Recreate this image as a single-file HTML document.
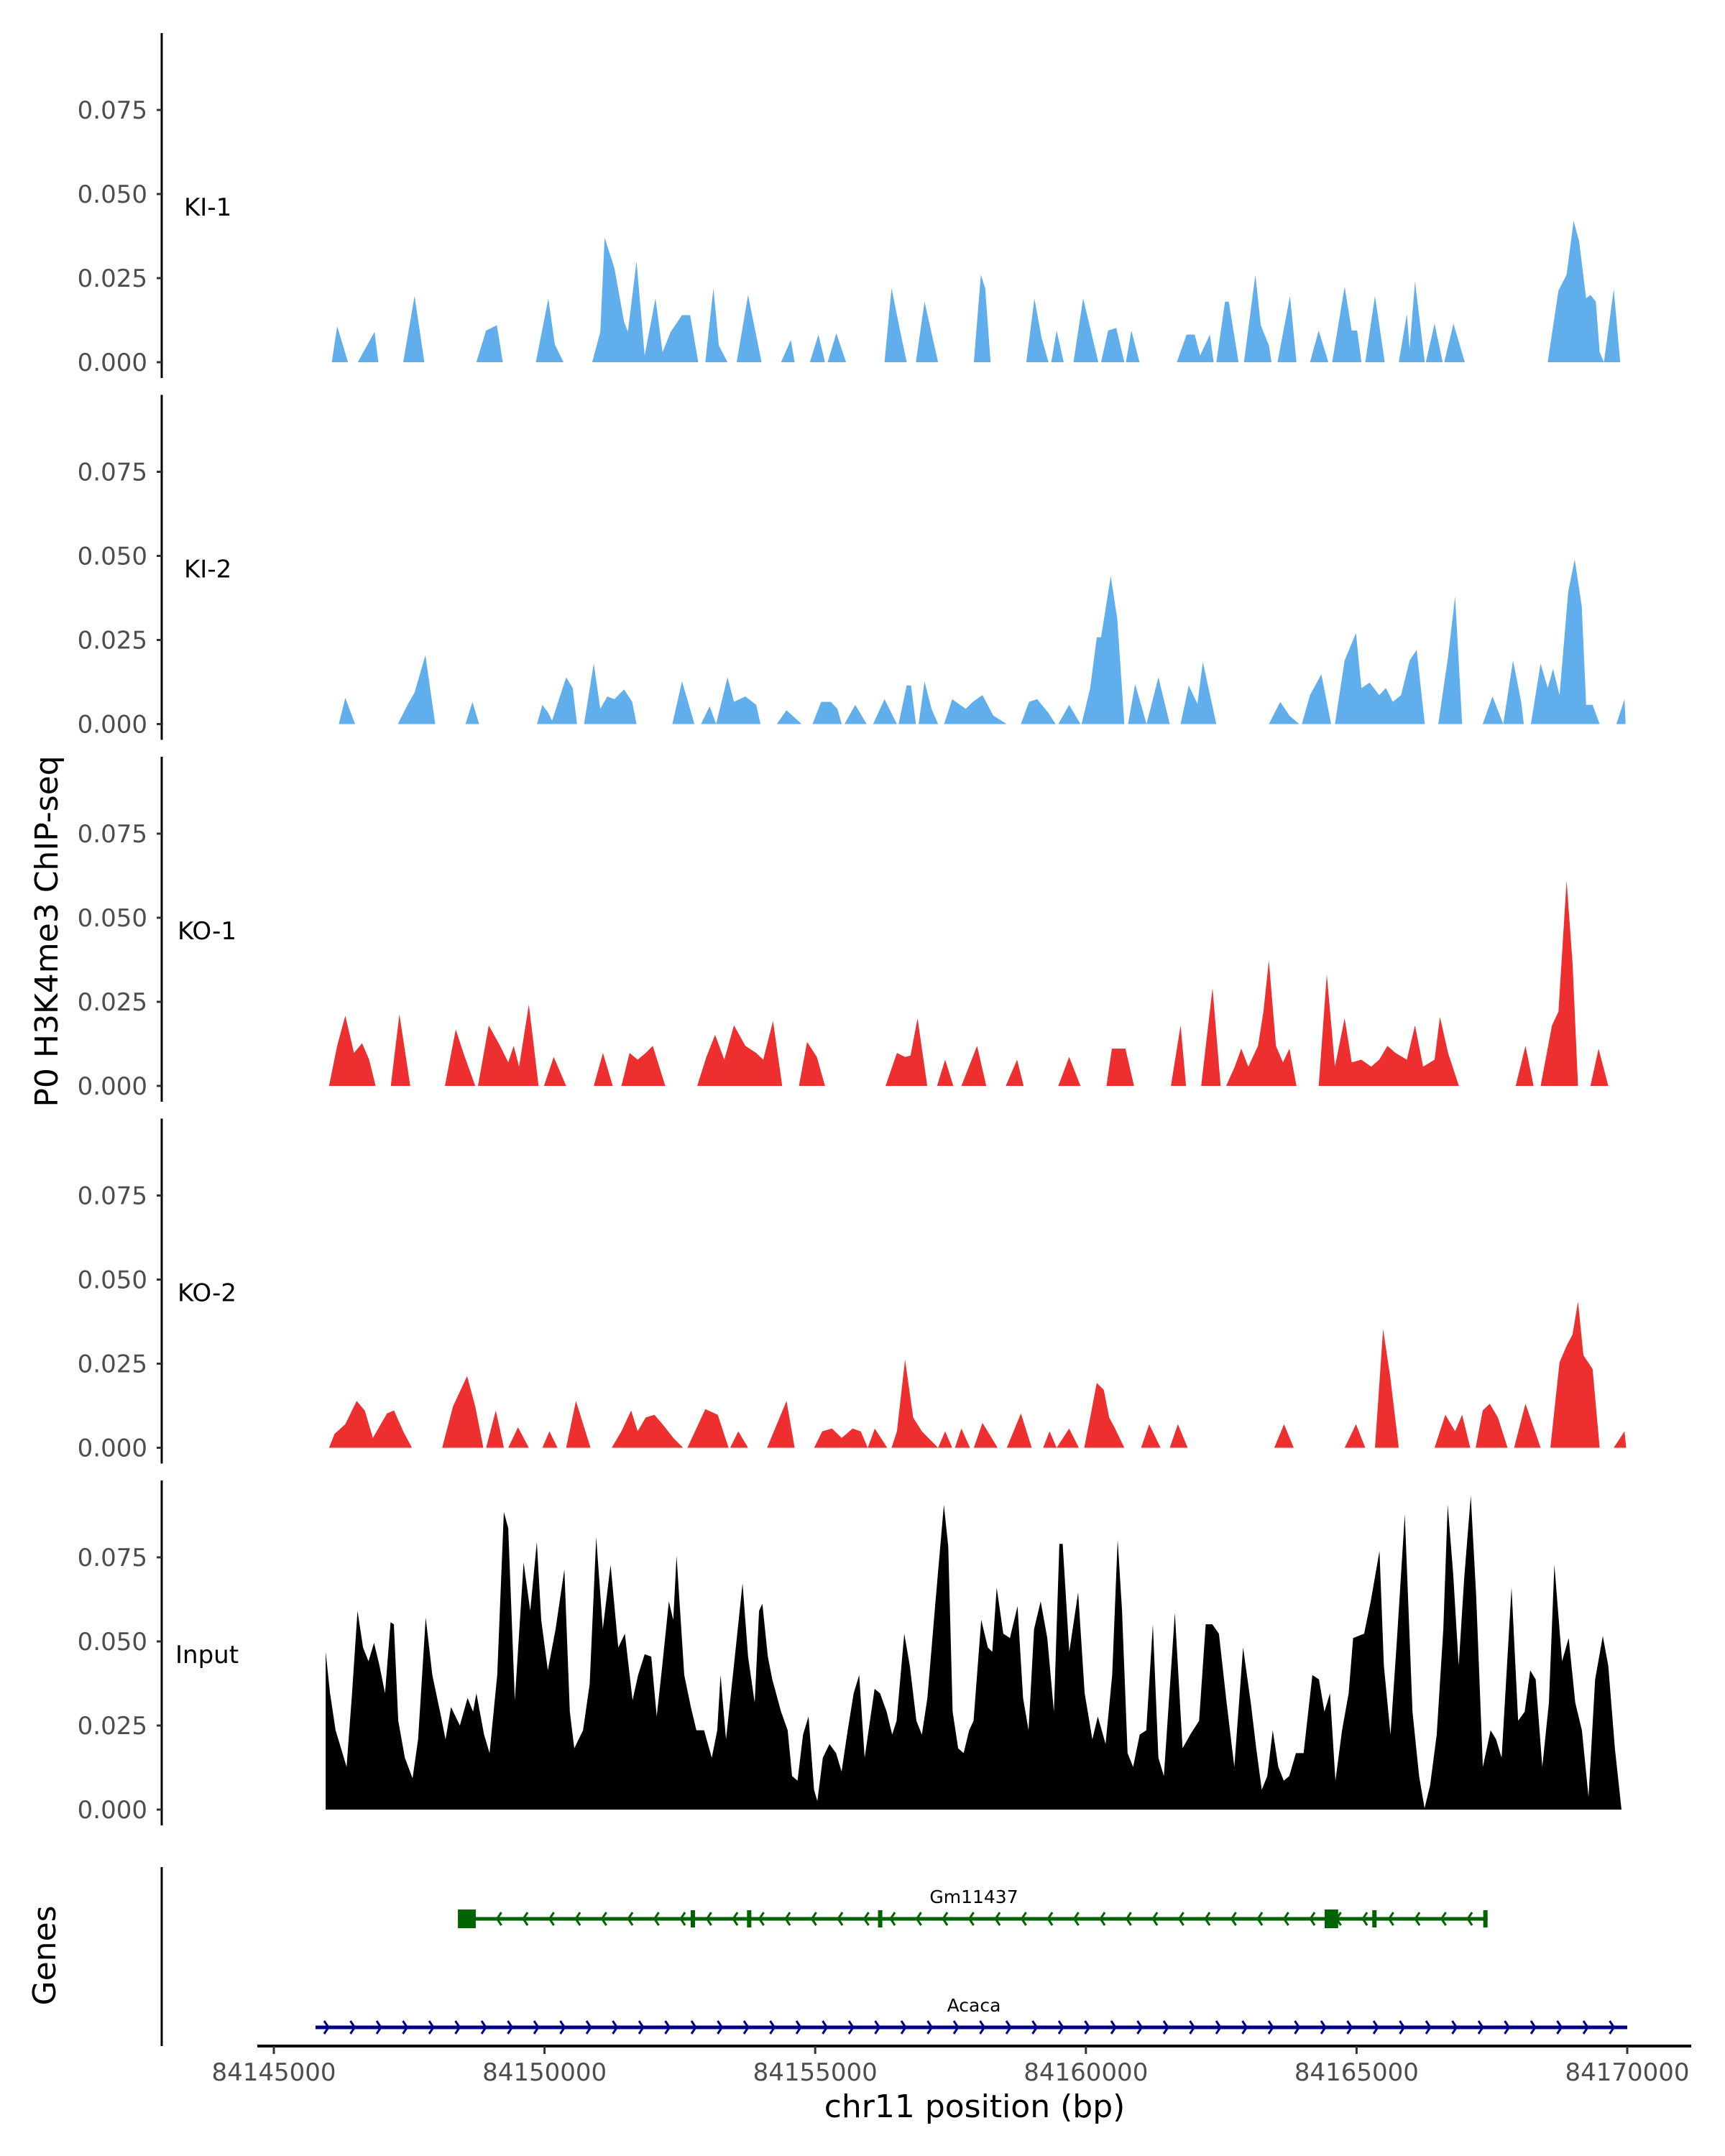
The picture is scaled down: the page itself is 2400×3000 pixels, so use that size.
<!DOCTYPE html>
<html>
<head>
<meta charset="utf-8">
<style>
html,body{margin:0;padding:0;background:#fff;}
svg{display:block;font-family:"DejaVu Sans","Liberation Sans",sans-serif;}
</style>
</head>
<body>
<svg id="chart" width="2400" height="3000" viewBox="0 0 2400 3000" xmlns="http://www.w3.org/2000/svg">
<rect x="0" y="0" width="2400" height="3000" fill="#fff"/>
<g id="plots"></g>
<text x="0" y="0" transform="translate(80,1296) rotate(-90)" font-size="44" text-anchor="middle" fill="#000">P0 H3K4me3 ChIP-seq</text>
<text x="0" y="0" transform="translate(77,2721) rotate(-90)" font-size="44" text-anchor="middle" fill="#000">Genes</text>
<text x="1356" y="2946" font-size="44" text-anchor="middle" fill="#000">chr11 position (bp)</text>
</svg>
<script>
// Track names and colours
const trackNames = ["KI-1", "KI-2", "KO-1", "KO-2", "Input"];
const trackColors = ["#61aeec", "#61aeec", "#ee2f2f", "#ee2f2f", "#000000"];
const yTicks = [0, 0.025, 0.05, 0.075];
const yTickLabels = ["0.000", "0.025", "0.050", "0.075"];
const xTicks = [84145000, 84150000, 84155000, 84160000, 84165000, 84170000];
const xTickLabels = ["84145000", "84150000", "84155000", "84160000", "84165000", "84170000"];
const regionStart = 84145000; // positions below are kb offsets from this

// Signal values: [kb offset, value]
const ki1 = [[1.07,0],[1.17,.0107],[1.37,0],[1.55,0],[1.86,.009],[1.93,0],[2.39,0],[2.60,.0197],[2.78,0],[3.74,0],[3.92,.0094],[4.12,.011],[4.23,0],[4.84,0],[5.07,.0189],[5.19,.0053],[5.35,0],[5.88,0],[6.03,.009],[6.11,.037],[6.29,.028],[6.47,.012],[6.54,.009],[6.70,.030],[6.85,.002],[7.05,.019],[7.18,.003],[7.33,.009],[7.54,.014],[7.69,.014],[7.84,0],[7.97,0],[8.12,.022],[8.22,.005],[8.38,0],[8.55,0],[8.76,.02],[9.01,0],[9.37,0],[9.55,.0066],[9.62,0],[9.90,0],[10.06,.0082],[10.18,0],[10.23,0],[10.39,.0086],[10.57,0],[11.28,0],[11.41,.022],[11.56,.010],[11.69,0],[11.86,0],[12.02,.018],[12.27,0],[12.93,0],[13.06,.026],[13.14,.022],[13.24,0],[13.90,0],[14.05,.0189],[14.18,.0074],[14.31,0],[14.36,0],[14.46,.0094],[14.59,0],[14.77,0],[14.95,.019],[15.23,0],[15.28,0],[15.41,.0094],[15.56,.0102],[15.71,0],[15.74,0],[15.84,.0094],[15.99,0],[16.68,0],[16.86,.0082],[17.01,.0082],[17.11,.002],[17.29,.0082],[17.36,0],[17.41,0],[17.57,.018],[17.64,.018],[17.82,0],[17.92,0],[18.13,.026],[18.23,.011],[18.38,.005],[18.43,0],[18.54,0],[18.77,.0197],[18.89,0],[19.14,0],[19.30,.0094],[19.48,0],[19.55,0],[19.78,.0225],[19.91,.0094],[20.01,.0094],[20.09,0],[20.16,0],[20.34,.0197],[20.52,0],[20.78,0],[20.93,.0143],[20.98,.004],[21.08,.024],[21.26,0],[21.28,0],[21.44,.0115],[21.59,0],[21.62,0],[21.79,.0115],[22.00,0],[23.53,0],[23.73,.0213],[23.88,.026],[24.01,.042],[24.11,.036],[24.24,.019],[24.32,.02],[24.42,.018],[24.49,.003],[24.57,0],[24.75,.0217],[24.87,0]];

const ki2 = [[1.20,0],[1.32,.0078],[1.50,0],[2.29,0],[2.47,.0057],[2.60,.0094],[2.80,.0205],[2.98,0],[3.54,0],[3.67,.0066],[3.79,0],[4.86,0],[4.96,.0057],[5.07,.0033],[5.14,.001],[5.40,.0139],[5.52,.0107],[5.60,0],[5.73,0],[5.91,.0180],[6.03,.0045],[6.16,.0082],[6.29,.0074],[6.47,.0103],[6.62,.0066],[6.70,0],[7.36,0],[7.54,.0127],[7.77,0],[7.89,0],[8.05,.0053],[8.17,0],[8.38,.0139],[8.50,.0066],[8.71,.0082],[8.91,.0057],[8.99,0],[9.29,0],[9.47,.0041],[9.75,0],[9.95,0],[10.11,.0066],[10.29,.0066],[10.41,.0045],[10.49,0],[10.54,0],[10.74,.0057],[10.95,0],[11.07,0],[11.28,.0074],[11.51,0],[11.54,0],[11.69,.0115],[11.77,.0115],[11.86,0],[11.91,0],[12.02,.0127],[12.15,.0045],[12.27,0],[12.38,0],[12.53,.0074],[12.78,.0045],[12.91,.0066],[13.09,.0086],[13.29,.0025],[13.54,0],[13.80,0],[13.95,.0066],[14.10,.0074],[14.31,.0033],[14.44,0],[14.49,0],[14.69,.0057],[14.90,0],[14.92,0],[15.08,.0107],[15.20,.0258],[15.28,.0258],[15.46,.044],[15.58,.0312],[15.71,0],[15.78,0],[15.91,.0119],[16.12,0],[16.34,.0139],[16.55,0],[16.75,0],[16.90,.0115],[17.06,.006],[17.16,.0185],[17.41,0],[18.38,0],[18.59,.0066],[18.76,.0025],[18.94,0],[18.99,0],[19.14,.0086],[19.35,.0148],[19.53,0],[19.60,0],[19.78,.0189],[19.99,.0271],[20.09,.0107],[20.24,.0123],[20.42,.0086],[20.54,.0107],[20.67,.0066],[20.82,.0086],[20.98,.0189],[21.11,.0221],[21.26,0],[21.51,0],[21.69,.02],[21.82,.038],[21.95,0],[22.33,0],[22.51,.0082],[22.71,0],[22.89,.0189],[23.04,.0066],[23.09,0],[23.22,0],[23.40,.0180],[23.53,.0107],[23.63,.0164],[23.75,.0086],[23.91,.0394],[24.03,.049],[24.16,.035],[24.24,.0057],[24.36,.0057],[24.49,0],[24.80,0],[24.95,.0074],[24.97,0]];

const ko1 = [[1.02,0],[1.17,.0119],[1.32,.0209],[1.48,.0098],[1.63,.0127],[1.76,.0078],[1.88,0],[2.16,0],[2.32,.0213],[2.52,0],[3.16,0],[3.36,.0168],[3.51,.0094],[3.72,0],[3.77,0],[3.97,.0180],[4.18,.0119],[4.33,.007],[4.43,.0119],[4.53,.0057],[4.71,.0242],[4.89,0],[4.99,0],[5.17,.0086],[5.40,0],[5.91,0],[6.08,.0098],[6.26,0],[6.42,0],[6.57,.0098],[6.72,.0078],[6.87,.0098],[7.00,.0119],[7.23,0],[7.82,0],[7.99,.0086],[8.15,.0152],[8.32,.0078],[8.50,.0180],[8.71,.0119],[8.91,.0098],[9.04,.0078],[9.22,.0193],[9.39,0],[9.70,0],[9.85,.0131],[10.03,.0086],[10.18,0],[11.30,0],[11.51,.0098],[11.66,.0086],[11.76,.009],[11.89,.0201],[12.07,0],[12.25,0],[12.40,.0078],[12.55,0],[12.70,0],[12.99,.0119],[13.16,0],[13.52,0],[13.73,.0078],[13.85,0],[14.49,0],[14.69,.0086],[14.90,0],[15.38,0],[15.48,.0111],[15.73,.0111],[15.89,0],[16.57,0],[16.75,.0180],[16.85,0],[17.13,0],[17.34,.0291],[17.49,0],[17.59,0],[17.75,.0057],[17.87,.0111],[18.00,.0057],[18.18,.0119],[18.28,.0221],[18.38,.0373],[18.51,.0119],[18.64,.007],[18.76,.0111],[18.89,0],[19.30,0],[19.45,.0332],[19.60,.0057],[19.78,.0201],[19.91,.007],[20.09,.0078],[20.27,.0057],[20.42,.0078],[20.57,.0119],[20.72,.0098],[20.93,.0078],[21.08,.0180],[21.23,.0057],[21.44,.0078],[21.54,.0205],[21.69,.0098],[21.89,0],[22.94,0],[23.12,.0119],[23.27,0],[23.40,0],[23.61,.0180],[23.73,.0221],[23.88,.0611],[23.99,.0365],[24.09,0],[24.32,0],[24.47,.0111],[24.65,0]];

const ko2 = [[1.02,0],[1.12,.0041],[1.32,.007],[1.53,.0139],[1.68,.0111],[1.83,.0029],[2.09,.0102],[2.22,.0111],[2.39,.0049],[2.55,0],[3.11,0],[3.31,.0123],[3.57,.0213],[3.72,.0123],[3.87,0],[3.92,0],[4.10,.0111],[4.25,0],[4.33,0],[4.51,.0061],[4.71,0],[4.96,0],[5.09,.0049],[5.24,0],[5.40,0],[5.58,.0139],[5.85,0],[6.24,0],[6.42,.0049],[6.60,.0111],[6.72,.0049],[6.87,.0090],[7.03,.0098],[7.18,.007],[7.38,.0029],[7.56,0],[7.64,0],[7.97,.0115],[8.20,.0098],[8.40,0],[8.43,0],[8.58,.0049],[8.76,0],[9.11,0],[9.47,.0139],[9.62,0],[9.98,0],[10.13,.0049],[10.31,.0057],[10.49,.0029],[10.69,.0057],[10.84,.0049],[10.97,0],[11.10,.0057],[11.33,0],[11.41,0],[11.51,.0049],[11.66,.0262],[11.81,.0090],[11.97,.0049],[12.27,0],[12.40,.0049],[12.53,0],[12.58,0],[12.70,.0057],[12.86,0],[12.93,0],[13.09,.0074],[13.37,0],[13.54,0],[13.80,.0102],[14.00,0],[14.21,0],[14.33,.0049],[14.46,0],[14.69,.0057],[14.87,0],[14.97,0],[15.08,.0090],[15.20,.0193],[15.33,.0172],[15.43,.009],[15.53,.006],[15.71,0],[16.02,0],[16.17,.0070],[16.38,0],[16.55,0],[16.70,.0070],[16.88,0],[18.48,0],[18.66,.0070],[18.84,0],[19.78,0],[19.99,.0070],[20.16,0],[20.34,0],[20.49,.0353],[20.62,.0213],[20.78,0],[21.44,0],[21.64,.0098],[21.82,.0049],[21.95,.0098],[22.10,0],[22.20,0],[22.33,.0111],[22.46,.0131],[22.61,.009],[22.79,0],[22.91,0],[23.12,.0131],[23.40,0],[23.58,0],[23.75,.0254],[23.88,.0303],[23.99,.0337],[24.09,.0435],[24.19,.0275],[24.36,.0234],[24.49,0],[24.75,0],[24.95,.0049],[24.98,0]];

const inputPos = [0.957,1.038,1.140,1.241,1.343,1.444,1.546,1.648,1.749,1.851,1.952,2.054,2.156,2.217,2.298,2.420,2.562,2.664,2.806,2.928,3.070,3.172,3.273,3.436,3.578,3.680,3.741,3.883,3.984,4.127,4.249,4.330,4.452,4.614,4.736,4.858,4.939,5.061,5.204,5.366,5.468,5.549,5.712,5.834,5.955,6.077,6.220,6.362,6.484,6.626,6.728,6.850,6.971,7.073,7.175,7.297,7.378,7.439,7.581,7.703,7.805,7.947,8.089,8.191,8.252,8.353,8.516,8.658,8.760,8.882,8.963,9.024,9.125,9.207,9.369,9.491,9.572,9.674,9.776,9.877,9.979,10.040,10.141,10.263,10.385,10.487,10.588,10.710,10.812,10.914,11.096,11.198,11.320,11.422,11.503,11.645,11.747,11.869,11.970,12.072,12.214,12.377,12.458,12.539,12.641,12.742,12.844,12.925,13.067,13.189,13.271,13.352,13.474,13.596,13.738,13.840,13.941,14.043,14.165,14.287,14.409,14.510,14.571,14.693,14.856,14.978,15.120,15.221,15.364,15.486,15.587,15.668,15.770,15.872,15.994,16.115,16.237,16.339,16.441,16.644,16.786,16.928,17.091,17.213,17.335,17.457,17.599,17.741,17.904,18.046,18.147,18.249,18.351,18.452,18.554,18.655,18.757,18.879,19.021,19.184,19.306,19.407,19.509,19.610,19.732,19.854,19.936,20.139,20.261,20.423,20.505,20.627,20.748,20.891,21.033,21.155,21.256,21.358,21.480,21.602,21.683,21.785,21.886,21.988,22.110,22.211,22.333,22.476,22.577,22.679,22.862,22.984,23.106,23.207,23.309,23.431,23.553,23.654,23.796,23.918,24.040,24.162,24.284,24.406,24.548,24.650,24.772,24.894];
const inputVal = [.0469,.0346,.0236,.0182,.0127,.0346,.0591,.0482,.0441,.0496,.0428,.0346,.0557,.0551,.0264,.0154,.0093,.0209,.0571,.0400,.0291,.0209,.0305,.0250,.0332,.0291,.0346,.0223,.0168,.0400,.0885,.0837,.0325,.0735,.0591,.0796,.0564,.0414,.0537,.0714,.0291,.0182,.0236,.0373,.0810,.0537,.0728,.0482,.0523,.0325,.0400,.0462,.0455,.0277,.0428,.0619,.0564,.0755,.0400,.0305,.0236,.0236,.0154,.0236,.0400,.0209,.0455,.0673,.0455,.0318,.0591,.0612,.0455,.0387,.0291,.0236,.0100,.0086,.0223,.0277,.0059,.0025,.0154,.0195,.0168,.0113,.0223,.0346,.0400,.0154,.0359,.0346,.0291,.0223,.0264,.0523,.0428,.0264,.0223,.0332,.0605,.0906,.0783,.0291,.0182,.0168,.0236,.0264,.0564,.0482,.0469,.0660,.0523,.0510,.0605,.0332,.0236,.0537,.0619,.0510,.0291,.0790,.0790,.0469,.0646,.0346,.0209,.0277,.0195,.0400,.0803,.0591,.0168,.0127,.0223,.0236,.0551,.0154,.0100,.0585,.0182,.0223,.0264,.0551,.0551,.0523,.0318,.0127,.0482,.0318,.0182,.0059,.0100,.0236,.0127,.0086,.0100,.0168,.0168,.0400,.0387,.0291,.0346,.0086,.0236,.0346,.0510,.0523,.0619,.0769,.0428,.0223,.0510,.0878,.0291,.0100,.0004,.0072,.0223,.0537,.0906,.0701,.0428,.0687,.0933,.0632,.0127,.0236,.0209,.0154,.0660,.0264,.0291,.0414,.0387,.0127,.0318,.0728,.0441,.0510,.0318,.0236,.0038,.0387,.0516,.0428,.0182,0];

// Genes: [start kb, end kb], exons as [start, end] kb
const geneNames = ["Gm11437", "Acaca"];
const geneSpans = [[3.40, 22.42], [0.77, 25.0]];
const geneStrands = ["-", "+"];
const gm11437Exons = [[3.40, 3.73], [7.70, 7.78], [8.74, 8.82], [11.16, 11.24], [19.41, 19.66], [20.29, 20.37], [22.34, 22.42]];

const NS = "http://www.w3.org/2000/svg";
const g = document.getElementById("plots");
function el(tag, attrs, parent) {
  const e = document.createElementNS(NS, tag);
  for (const k in attrs) e.setAttribute(k, attrs[k]);
  (parent || g).appendChild(e);
  return e;
}
// axis functions
const X0 = 381, PX_PER_KB = 75.32;
function xKb(kb) { return X0 + kb * PX_PER_KB; }
function xBp(bp) { return xKb((bp - regionStart) / 1000); }
const PANEL_BASE0 = 504, PANEL_STEP = 503.5, PX_PER_UNIT = 4680;
function baseY(i) { return PANEL_BASE0 + PANEL_STEP * i; }
function yVal(i, v) { return baseY(i) - v * PX_PER_UNIT; }

const seriesPts = [ki1, ki2, ko1, ko2, inputPos.map((p, k) => [p, inputVal[k]])];

trackNames.forEach((name, i) => {
  const b = baseY(i);
  const panel = el("g", {});
  
  
  // axis line
  const ax = el("line", {x1: 225, x2: 225, y1: b - 458, y2: b + 22, stroke: "#000", "stroke-width": 3}, panel);
  
  
  yTicks.forEach((t, k) => {
    const ty = yVal(i, t);
    const tk = el("line", {x1: 218, x2: 225, y1: ty, y2: ty, stroke: "#333", "stroke-width": 3}, panel);
    
    
    const tl = el("text", {x: 205, y: ty + 12, "font-size": 34, "text-anchor": "end", fill: "#4d4d4d"}, panel);
    tl.textContent = yTickLabels[k];
    
    
  });
  const lab = el("text", {x: i === 4 ? 244 : (i >= 2 ? 247 : 256), y: b - 216 + 12, "font-size": 34, fill: "#000"}, panel);
  lab.textContent = name;
  
  
  // area
  const pts = seriesPts[i].slice().sort((a, c) => a[0] - c[0]);
  let d = "M" + xKb(pts[0][0]).toFixed(1) + "," + b;
  pts.forEach(p => { d += "L" + xKb(p[0]).toFixed(1) + "," + yVal(i, p[1]).toFixed(1); });
  d += "L" + xKb(pts[pts.length - 1][0]).toFixed(1) + "," + b + "Z";
  const area = el("path", {d: d, fill: trackColors[i]}, panel);
  
  
});

// Genes panel
const gp = el("g", {});


const gax = el("line", {x1: 225, x2: 225, y1: 2598, y2: 2847, stroke: "#000", "stroke-width": 3}, gp);


const geneY = [2670, 2821];
const geneCol = ["#006400", "#00008b"];
geneNames.forEach((nm, k) => {
  const gg = el("g", {}, gp);
  
  
  const x1 = xKb(geneSpans[k][0]), x2 = xKb(geneSpans[k][1]), y = geneY[k];
  el("line", {x1: x1, x2: x2, y1: y, y2: y, stroke: geneCol[k], "stroke-width": 5}, gg);
  for (let ax = x1 + 18; ax < x2 - 8; ax += 36.5) {
    const dir = geneStrands[k] === "+" ? 1 : -1;
    el("polyline", {points: (ax - 6 * dir) + "," + (y - 9) + " " + ax + "," + y + " " + (ax - 6 * dir) + "," + (y + 9), fill: "none", stroke: geneCol[k], "stroke-width": 3}, gg);
  }
  const t = el("text", {x: 1355, y: geneY[k] - 22, "font-size": 25, "text-anchor": "middle", fill: "#000"}, gg);
  t.textContent = nm;
  
  
});
gm11437Exons.forEach(ex => {
  const x1 = xKb(ex[0]), x2 = xKb(ex[1]);
  const big = (ex[1] - ex[0]) > 0.15;
  const r = el("rect", {x: x1, y: geneY[0] - (big ? 13 : 12), width: Math.max(x2 - x1, 6), height: big ? 26 : 24, fill: geneCol[0]}, gp);
  
  
});

// x axis
const xa = el("line", {x1: 358, x2: 2353, y1: 2847, y2: 2847, stroke: "#000", "stroke-width": 4});


xTicks.forEach((t, k) => {
  const x = xBp(t);
  const tk = el("line", {x1: x, x2: x, y1: 2847, y2: 2858, stroke: "#333", "stroke-width": 3});
  
  
  const tl = el("text", {x: x, y: 2895, "font-size": 34, "text-anchor": "middle", fill: "#4d4d4d"});
  tl.textContent = xTickLabels[k];
  
  
});
</script>
</body>
</html>
